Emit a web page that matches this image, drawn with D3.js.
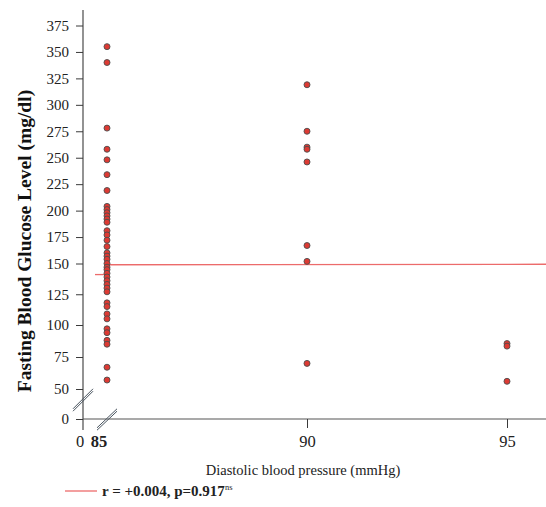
<!DOCTYPE html>
<html>
<head>
<meta charset="utf-8">
<script src="https://cdn.jsdelivr.net/npm/d3@7"></script>
<style>
  html, body { margin: 0; padding: 0; background: #fff; }
  svg { display: block; }
</style>
</head>
<body>
<svg id="chart" width="546" height="507"></svg>
<script>
// ---- data ----
const bp85 = [355, 340, 278, 258, 248, 234, 219, 204, 201, 198, 195, 192, 189, 181, 177, 172, 166,
  160, 157, 154, 150, 147, 145, 142, 139, 136, 133, 130, 127, 118, 115, 109, 105, 97, 94, 88, 85, 67, 57];
const bp90 = [319, 275, 260, 258, 246, 167, 152, 70];
const bp95 = [85.5, 83.5, 56];
const yTickValues = [0, 50, 75, 100, 125, 150, 175, 200, 225, 250, 275, 300, 325, 350, 375];
const xTickValues = [90, 95];
const fitLine = [{x: 85, y: 149.0}, {x: 96, y: 149.4}];
const fitStub = [{x: 84.7, y: 141}, {x: 85, y: 141}];
const legendText = "r = +0.004, p=0.917";
const legendSup = "ns";
const xTitle = "Diastolic blood pressure (mmHg)";
const yTitle = "Fasting Blood Glucose Level (mg/dl)";

const points = [].concat(
  bp85.map(v => ({x: 85, y: v})),
  bp90.map(v => ({x: 90, y: v})),
  bp95.map(v => ({x: 95, y: v}))
);

// ---- layout ----
const svg = d3.select("#chart");
const axisX0 = 83, axisY0 = 419;
const x = d3.scaleLinear().domain([85, 95]).range([107, 507]);
// the original axis is slightly non-uniform below 150 (broken axis)
const y = d3.scaleLinear().domain([0, 50, 100, 150, 375]).range([419, 389, 325, 263.5, 25.5]);
const serif = "'Liberation Serif', 'Times New Roman', serif";
const axisColor = "#3a3a3a";

// y axis
const yAxis = d3.axisLeft(y).tickValues(yTickValues).tickSize(7).tickPadding(7);
const gy = svg.append("g").attr("transform", `translate(${axisX0},0)`).call(yAxis);
gy.select(".domain").remove();
gy.selectAll(".tick line").attr("stroke", axisColor);
gy.selectAll(".tick text").attr("font-family", serif).attr("font-size", 15).attr("fill", "#222");
svg.append("line").attr("x1", axisX0).attr("x2", axisX0).attr("y1", 10).attr("y2", 430)
  .attr("stroke", axisColor).attr("stroke-width", 1.1);

// x axis
svg.append("line").attr("x1", axisX0).attr("x2", 546).attr("y1", axisY0).attr("y2", axisY0)
  .attr("stroke", "#555").attr("stroke-width", 1.1);
const xAxis = d3.axisBottom(x).tickValues(xTickValues).tickSize(9).tickPadding(7);
const gx = svg.append("g").attr("transform", `translate(0,${axisY0})`).call(xAxis);
gx.select(".domain").remove();
gx.selectAll(".tick line").attr("stroke", axisColor);
gx.selectAll(".tick text").attr("font-family", serif).attr("font-size", 16.5).attr("fill", "#222");
svg.append("text").attr("x", axisX0 - 3).attr("y", 447).attr("text-anchor", "middle")
  .attr("font-family", serif).attr("font-size", 16.5).attr("fill", "#222").text("0");
svg.append("text").attr("x", x(85) - 8).attr("y", 447).attr("text-anchor", "middle")
  .attr("font-family", serif).attr("font-size", 16.5).attr("font-weight", "bold").attr("fill", "#222").text("85");

// break marks
const brk = [
  [[73, 410], [93, 390]],
  [[97, 429], [117, 410]]
];
brk.forEach(b => {
  [-1.2, 1.2].forEach(o => {
    svg.append("line").attr("x1", b[0][0]).attr("y1", b[0][1] + o).attr("x2", b[1][0]).attr("y2", b[1][1] + o)
      .attr("stroke", "#4a5560").attr("stroke-width", 1);
  });
});

// fit line
const line = d3.line().x(d => x(d.x)).y(d => y(d.y));
svg.append("path").datum(fitLine).attr("d", line).attr("fill", "none")
  .attr("stroke", "#ec6b6b").attr("stroke-width", 1.3);
svg.append("path").datum(fitStub).attr("d", line).attr("fill", "none")
  .attr("stroke", "#ec6b6b").attr("stroke-width", 1.3);

// points
svg.append("g").selectAll("circle").data(points).join("circle")
  .attr("cx", d => x(d.x)).attr("cy", d => y(d.y)).attr("r", 3)
  .attr("fill", "#dd3a33").attr("stroke", "#4d4d4d").attr("stroke-width", 0.9);

// titles
svg.append("text").attr("transform", "translate(31,241) rotate(-90)").attr("text-anchor", "middle")
  .attr("font-family", serif).attr("font-size", 19.5).attr("font-weight", "bold").attr("fill", "#111").text(yTitle);
svg.append("text").attr("x", 303).attr("y", 475).attr("text-anchor", "middle")
  .attr("font-family", serif).attr("font-size", 14.5).attr("fill", "#222").text(xTitle);

// legend
svg.append("line").attr("x1", 65).attr("x2", 97).attr("y1", 491).attr("y2", 491)
  .attr("stroke", "#ec6b6b").attr("stroke-width", 1.3);
const lt = svg.append("text").attr("x", 102).attr("y", 496)
  .attr("font-family", serif).attr("font-size", 15).attr("font-weight", "bold").attr("fill", "#222");
lt.append("tspan").text(legendText);
lt.append("tspan").attr("dy", -6).attr("font-size", 8.5).attr("font-weight", "normal").text(legendSup);
</script>
</body>
</html>
